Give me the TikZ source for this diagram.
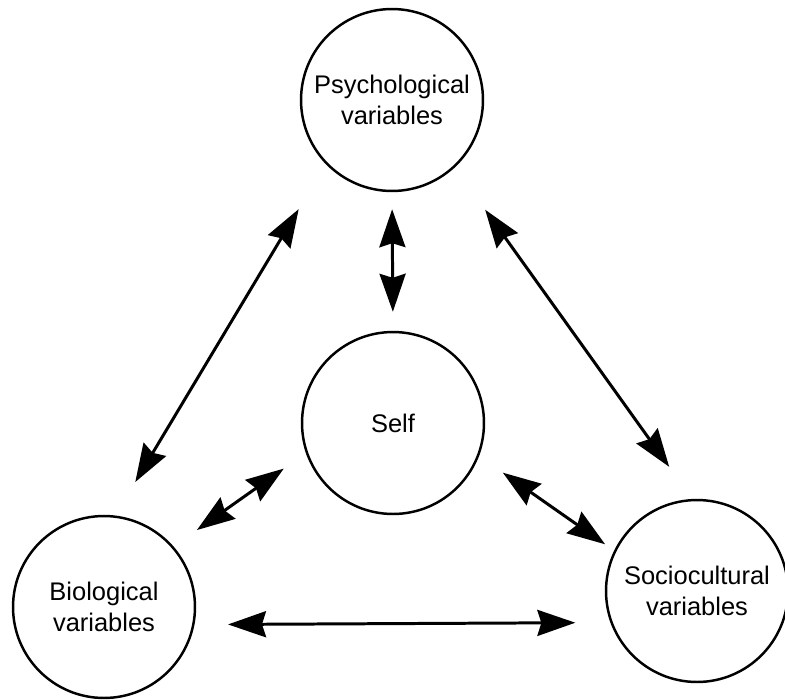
\documentclass[tikz,border=0pt]{standalone}
\usepackage{fontspec}
\setmainfont{Liberation Sans}
\usetikzlibrary{arrows.meta}

\begin{document}
\begin{tikzpicture}[x=0.02cm,y=-0.02cm,
 var/.style={draw,circle,line width=1.4pt,minimum size=3.64cm,inner sep=0pt,align=center,font=\fontsize{14.5}{18}\selectfont},
 link/.style={line width=1.7pt,{Stealth[length=0.76cm,width=0.52cm,inset=0.08cm]}-{Stealth[length=0.76cm,width=0.52cm,inset=0.08cm]}}]
 \useasboundingbox (0,0) rectangle (785,700); %枠
 \node[var] (psy) at (392,100) {Psychological\\variables}; %上
 \node[var] (self) at (393,423) {Self}; %中央
 \node[var] (bio) at (104,607) {Biological\\variables}; %左下
 \node[var] (soc) at (697,591) {Sociocultural\\variables}; %右下
 \draw[link,shorten <=1.05cm,shorten >=0.78cm] (psy.224.6)--(bio.83.9); %左辺
 \draw[link,shorten <=1.04cm,shorten >=0.79cm] (psy.313.8)--(soc.93.3); %右辺
 \draw[link,shorten <=0.34cm,shorten >=0.38cm] (psy.south)--(self.north); %縦
 \draw[link,shorten <=0.54cm,shorten >=0.57cm] (self.199.6)--(bio.41); %中央-左
 \draw[link,shorten <=0.58cm,shorten >=0.22cm] (self.339.8)--(soc.154.2); %中央-右
 \draw[link,shorten <=0.67cm,shorten >=0.70cm] (bio.349.9)--(soc.200.6); %底辺
\end{tikzpicture}
\end{document}
